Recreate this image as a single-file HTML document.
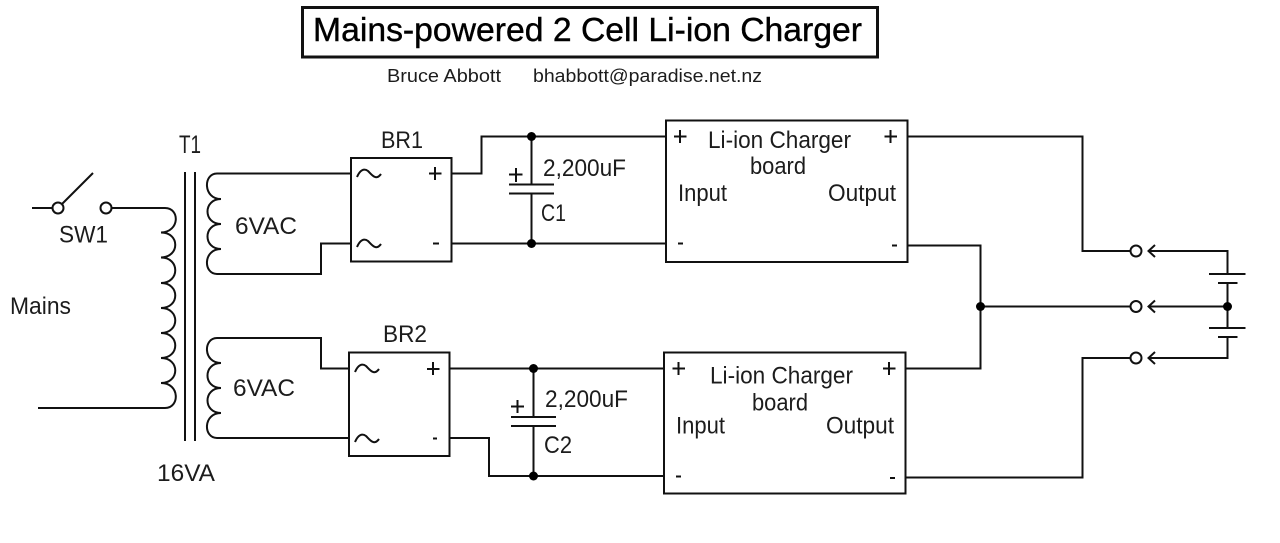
<!DOCTYPE html>
<html>
<head>
<meta charset="utf-8">
<style>
html,body{margin:0;padding:0;background:#fff;width:1280px;height:543px;overflow:hidden}
svg{display:block}
text{font-family:"Liberation Sans",sans-serif;fill:#1c1c1c}
.l{fill:none;stroke:#111;stroke-width:2}
.t{font-size:24px}
.s{font-size:18px}
</style>
</head>
<body>
<svg width="1280" height="543" viewBox="0 0 1280 543" xmlns="http://www.w3.org/2000/svg">
<rect x="0" y="0" width="1280" height="543" fill="#fff"/>
<rect x="302.500" y="7.500" width="575" height="49.500" fill="none" stroke="#111" stroke-width="3"/>
<text x="313" y="41" font-size="33.500" textLength="549" lengthAdjust="spacingAndGlyphs" style="fill:#000;stroke:#000;stroke-width:.4">Mains-powered 2 Cell Li-ion Charger</text>
<text x="387" y="82" class="s" textLength="114" lengthAdjust="spacingAndGlyphs">Bruce Abbott</text>
<text x="533" y="82" class="s" textLength="229" lengthAdjust="spacingAndGlyphs">bhabbott@paradise.net.nz</text>

<!-- switch -->
<path class="l" d="M32 208H53M62 204L93 173M112 208H165"/>
<circle class="l" cx="58" cy="208" r="5.500"/>
<circle class="l" cx="106" cy="208" r="5.500"/>
<text x="59" y="242.500" class="t" textLength="49" lengthAdjust="spacingAndGlyphs">SW1</text>
<text x="10" y="314" class="t" textLength="61" lengthAdjust="spacingAndGlyphs">Mains</text>
<text x="179" y="153" font-size="25" textLength="22" lengthAdjust="spacingAndGlyphs">T1</text>
<text x="157" y="481" class="t" textLength="58" lengthAdjust="spacingAndGlyphs">16VA</text>

<!-- primary -->
<path class="l" d="M165 208C180 208 180 232 161 232.500C180 232.500 180 257 161 257.500C180 257.500 180 283 161 283C180 283 180 308 161 308C180 308 180 333 161 333C180 333 180 358 161 358C180 358 180 383 161 383C180 383 180 408 165 408H38"/>
<!-- core -->
<path class="l" d="M185 172V441M195 172V441"/>
<!-- secondary 1 -->
<path class="l" d="M351 173.500H217C203 173.500 203 199 221 199C203 199 203 224 221 224C203 224 203 249 221 249C203 249 203 274 217 274H321V243.500H351"/>
<text x="235" y="234" class="t" textLength="62" lengthAdjust="spacingAndGlyphs">6VAC</text>
<!-- secondary 2 -->
<path class="l" d="M349 368.500H321V338H217C203 338 203 363 221 363C203 363 203 388 221 388C203 388 203 413 221 413C203 413 203 438 217 438H349"/>
<text x="233" y="396" class="t" textLength="62" lengthAdjust="spacingAndGlyphs">6VAC</text>

<!-- BR1 -->
<rect class="l" x="351" y="158" width="100.500" height="103.500"/>
<path class="l" d="M357 177C360 170 364 168 368 171C372 175 376 181 381 174M357 247C360 240 364 238 368 241C372 245 376 251 381 244"/>
<path class="l" d="M435 167V180M429 173.500H441.500M433 243.500H439"/>
<text x="381" y="148" class="t" textLength="42" lengthAdjust="spacingAndGlyphs">BR1</text>
<!-- BR2 -->
<rect class="l" x="349" y="352.500" width="100.500" height="103.500"/>
<path class="l" d="M355 372C358 365 362 363 366 366C370 370 374 376 379 369M355 442C358 435 362 433 366 436C370 440 374 446 379 439"/>
<path class="l" d="M433 362V375M427 369H439.500M433 438.500H437"/>
<text x="383" y="342" class="t" textLength="44" lengthAdjust="spacingAndGlyphs">BR2</text>

<!-- C1 wiring -->
<path class="l" d="M451.500 173.500H481.500V136.500H666M451.500 243.500H666M531.500 136.500V184M531.500 193V243.500"/>
<path class="l" d="M509 184.500H554M509 193.500H554M516 168V182M509 174.500H522.500"/>
<circle cx="531.500" cy="136.500" r="4.500" fill="#000"/>
<circle cx="531.500" cy="243.500" r="4.500" fill="#000"/>
<text x="543" y="176" class="t" textLength="83" lengthAdjust="spacingAndGlyphs">2,200uF</text>
<text x="541" y="221" class="t" textLength="25" lengthAdjust="spacingAndGlyphs">C1</text>

<!-- C2 wiring -->
<path class="l" d="M449.500 368.500H664M449.500 438H489V476H664M533.500 368.500V417M533.500 426V476"/>
<path class="l" d="M511 417H556M511 426H556M517.500 400V413M511 406.500H524"/>
<circle cx="533.500" cy="368.500" r="4.500" fill="#000"/>
<circle cx="533.500" cy="476" r="4.500" fill="#000"/>
<text x="545" y="407" class="t" textLength="83" lengthAdjust="spacingAndGlyphs">2,200uF</text>
<text x="544" y="453" class="t" textLength="28" lengthAdjust="spacingAndGlyphs">C2</text>

<!-- Board 1 -->
<rect class="l" x="666" y="120.500" width="241.500" height="141.500"/>
<path class="l" d="M680 130V143M674 136.500H686.500M890.500 130V143M884.500 136.500H897M678 243.500H683M892 245.500H897"/>
<text x="708" y="148" class="t" textLength="143" lengthAdjust="spacingAndGlyphs">Li-ion Charger</text>
<text x="750" y="174" class="t" textLength="56" lengthAdjust="spacingAndGlyphs">board</text>
<text x="678" y="201" class="t" textLength="49" lengthAdjust="spacingAndGlyphs">Input</text>
<text x="828" y="201" class="t" textLength="68" lengthAdjust="spacingAndGlyphs">Output</text>

<!-- Board 2 -->
<rect class="l" x="664" y="352.500" width="241.500" height="141"/>
<path class="l" d="M678.500 362V375M672.500 368.500H685M889 362V375M883 368.500H895.500M676 476.500H681M890 478H895"/>
<text x="710" y="383.500" class="t" textLength="143" lengthAdjust="spacingAndGlyphs">Li-ion Charger</text>
<text x="752" y="410.500" class="t" textLength="56" lengthAdjust="spacingAndGlyphs">board</text>
<text x="676" y="433.500" class="t" textLength="49" lengthAdjust="spacingAndGlyphs">Input</text>
<text x="826" y="433.500" class="t" textLength="68" lengthAdjust="spacingAndGlyphs">Output</text>

<!-- outputs -->
<path class="l" d="M907.500 136.500H1082.500V251H1130M907.500 245.500H980.500V368.500H905.500M980.500 306.500H1130M905.500 477.500H1082.500V358H1130"/>
<circle cx="980.500" cy="306.500" r="4.500" fill="#000"/>
<circle class="l" cx="1136" cy="251" r="5.500"/>
<circle class="l" cx="1136" cy="306.500" r="5.500"/>
<circle class="l" cx="1136" cy="358" r="5.500"/>
<path class="l" d="M1155 245L1148.500 251L1155 257M1149 251H1227.500V274M1155 300.500L1148.500 306.500L1155 312.500M1149 306.500H1227.500M1155 352L1148.500 358L1155 364M1149 358H1227.500V337"/>
<path class="l" d="M1209 274H1245.500M1218 283H1237.500M1227.500 283V328M1209 328H1245.500M1218 337H1237.500"/>
<circle cx="1227.500" cy="306.500" r="4.500" fill="#000"/>
</svg>
</body>
</html>
